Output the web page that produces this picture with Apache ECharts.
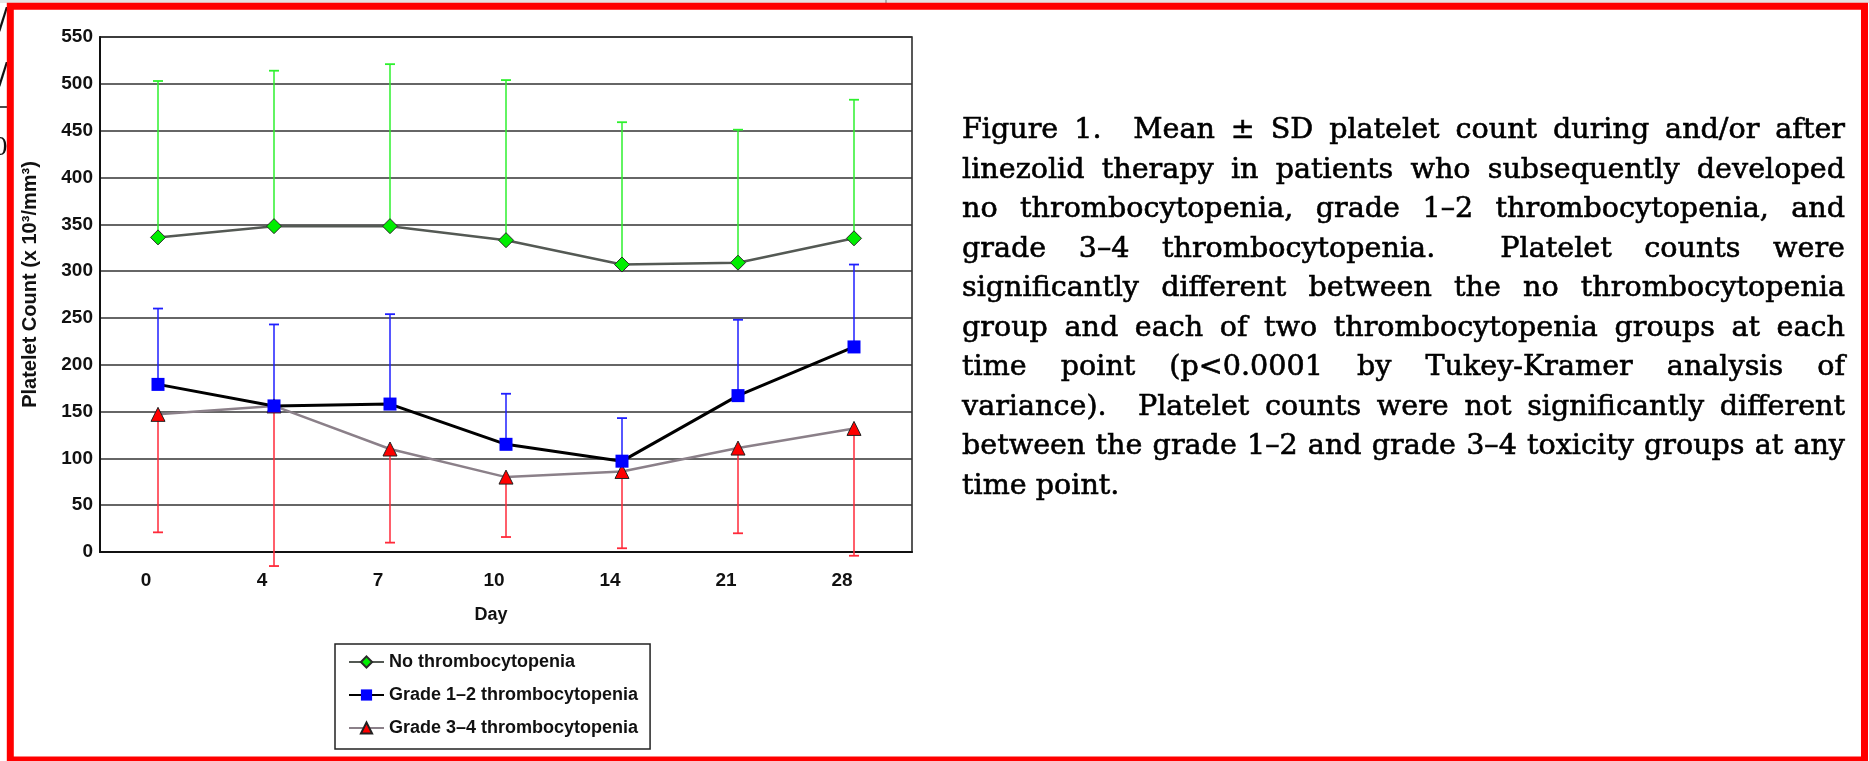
<!DOCTYPE html>
<html>
<head>
<meta charset="utf-8">
<script src="https://cdn.jsdelivr.net/npm/echarts@6/dist/echarts.min.js"></script>
<style>
html,body{margin:0;padding:0;background:#ffffff;}
#chart{width:1869px;height:761px;}
</style>
</head>
<body>
<div id="chart"></div>
<script>
// ---------------- data ----------------
const days = ['0', '4', '7', '10', '14', '21', '28'];
const seriesNames = ['No thrombocytopenia', 'Grade 1\u20132 thrombocytopenia', 'Grade 3\u20134 thrombocytopenia'];
const noThrombMean  = [336, 348, 348, 333, 307, 309, 335];
const noThrombUpper = [503, 514, 521, 504, 459, 451, 483];
const grade12Mean   = [179, 156, 158, 115, 97, 167, 219];
const grade12Upper  = [260, 243, 254, 169, 143, 248, 307];
const grade34Mean   = [147, 156, 110, 80, 86, 111, 132];
const grade34Lower  = [21, -15, 10, 16, 4, 20, -4];
const yMin = 0, yMax = 550, yStep = 50;
const xAxisTitle = 'Day';
const yAxisTitle = 'Platelet Count (x 10\u00B3/mm\u00B3)';
const captionLines = [
  'Figure 1.  Mean \u00B1 SD platelet count during and/or after',
  'linezolid therapy in patients who subsequently developed',
  'no thrombocytopenia, grade 1\u20132 thrombocytopenia, and',
  'grade 3\u20134 thrombocytopenia.  Platelet counts were',
  'significantly different between the no thrombocytopenia',
  'group and each of two thrombocytopenia groups at each',
  'time point (p<0.0001 by Tukey-Kramer analysis of',
  'variance).  Platelet counts were not significantly different',
  'between the grade 1\u20132 and grade 3\u20134 toxicity groups at any',
  'time point.'
];

// ---------------- helpers ----------------
const SANS = '"Liberation Sans", Arial, Helvetica, sans-serif';
const SERIF = '"DejaVu Serif", serif';

function errorBars(name, base, end, color) {
  return {
    type: 'custom',
    name: name + ' SD',
    z: 1,
    silent: true,
    clip: false,
    data: days.map((d, i) => [i, base[i], end[i]]),
    encode: { x: 0, y: [1, 2] },
    renderItem: function (params, api) {
      const x = api.value(0);
      const p1 = api.coord([x, api.value(1)]);
      const p2 = api.coord([x, api.value(2)]);
      const hw = 5;
      return {
        type: 'group',
        children: [
          { type: 'line', shape: { x1: p1[0], y1: p1[1], x2: p2[0], y2: p2[1] },
            style: { stroke: color, lineWidth: 1.5 } },
          { type: 'line', shape: { x1: p2[0] - hw, y1: p2[1], x2: p2[0] + hw, y2: p2[1] },
            style: { stroke: color, lineWidth: 1.8 } }
        ]
      };
    }
  };
}

// caption: justified lines built from words, measured with zrender itself
const capLeft = 962, capRight = 1845, capTop = 131, capStep = 39.5;
function textW(t, size) {
  const el = new echarts.graphic.Text({ style: { text: t, fontSize: size, fontFamily: SERIF } });
  return el.getBoundingRect().width;
}
let capSize = 30;
captionLines.slice(0, -1).forEach(l => {
  const w = textW(l, 100);
  capSize = Math.min(capSize, 100 * 0.99 * (capRight - capLeft) / w);
});
capSize = Math.floor(capSize * 10) / 10;
const captionGraphics = [];
captionLines.forEach((line, li) => {
  const tokens = line.split(' ');
  const widths = tokens.map(t => t.length ? textW(t, capSize) : 0);
  const total = widths.reduce((a, b) => a + b, 0);
  const gaps = tokens.length - 1;
  const isLast = li === captionLines.length - 1;
  const gap = isLast ? textW('a a', capSize) - textW('aa', capSize) : (capRight - capLeft - total) / gaps;
  let x = capLeft;
  const y = capTop + li * capStep;
  tokens.forEach((t, ti) => {
    if (t.length) {
      captionGraphics.push({
        type: 'text', x: x, y: y, z: 50,
        style: { text: t, fontSize: capSize, fontFamily: SERIF, fill: '#000',
                 stroke: '#000', lineWidth: 0.6,
                 textAlign: 'left', textVerticalAlign: 'middle', align: 'left', verticalAlign: 'middle' }
      });
    }
    x += widths[ti] + gap;
  });
});

// ---------------- chart ----------------
const chart = echarts.init(document.getElementById('chart'), null, { renderer: 'canvas' });
chart.setOption({
  animation: false,
  backgroundColor: '#ffffff',
  grid: { left: 100, right: 957, top: 37, bottom: 209, show: true,
          borderColor: '#222', borderWidth: 1.5, backgroundColor: 'transparent' },
  legend: {
    data: seriesNames,
    orient: 'vertical',
    left: 335, top: 644,
    itemWidth: 35, itemHeight: 14, itemGap: 15,
    padding: [9, 12, 12, 13],
    borderColor: '#222', borderWidth: 1.5,
    backgroundColor: '#fff',
    selectedMode: false,
    textStyle: { fontSize: 18, fontWeight: 'bold', color: '#111', fontFamily: SANS }
  },
  xAxis: {
    type: 'category',
    data: days,
    boundaryGap: true,
    axisLine: { lineStyle: { color: '#111', width: 2 } },
    axisTick: { show: false },
    splitLine: { show: false },
    axisLabel: { margin: 19, fontSize: 19, fontWeight: 'bold', color: '#111', fontFamily: SANS,
                 padding: [0, 24, 0, 0] },
    name: xAxisTitle,
    nameLocation: 'middle',
    nameGap: 54,
    nameTextStyle: { fontSize: 18, fontWeight: 'bold', color: '#111', fontFamily: SANS, padding: [0, 30, 0, 0] }
  },
  yAxis: {
    type: 'value',
    min: yMin, max: yMax, interval: yStep,
    axisLine: { show: true, lineStyle: { color: '#111', width: 2 } },
    axisTick: { show: false },
    splitLine: { lineStyle: { color: '#333', width: 1.5 } },
    axisLabel: { margin: 7, fontSize: 19, fontWeight: 'bold', color: '#111', fontFamily: SANS },
    name: yAxisTitle,
    nameLocation: 'middle',
    nameGap: 60,
    nameTextStyle: { fontSize: 20, fontWeight: 'bold', color: '#111', fontFamily: SANS, padding: [0, 0, 0, 20] }
  },
  series: [
    errorBars(seriesNames[0], noThrombMean, noThrombUpper, '#2ef02e'),
    errorBars(seriesNames[1], grade12Mean, grade12Upper, '#1f1fff'),
    errorBars(seriesNames[2], grade34Mean, grade34Lower, '#ff2a3a'),
    {
      name: seriesNames[0], type: 'line', data: noThrombMean, z: 3,
      symbol: 'diamond', symbolSize: 15, showAllSymbol: true,
      lineStyle: { color: '#545954', width: 2.5 },
      itemStyle: { color: '#00ee00', borderColor: '#2a2a2a', borderWidth: 1 }
    },
    {
      name: seriesNames[2], type: 'line', data: grade34Mean, z: 3,
      symbol: 'triangle', symbolSize: 14, showAllSymbol: true,
      lineStyle: { color: '#8b8089', width: 2.5 },
      itemStyle: { color: '#ff0000', borderColor: '#222', borderWidth: 1 }
    },
    {
      name: seriesNames[1], type: 'line', data: grade12Mean, z: 4,
      symbol: 'rect', symbolSize: 13, showAllSymbol: true,
      lineStyle: { color: '#000000', width: 3 },
      itemStyle: { color: '#0000ff', borderColor: '#0000ff', borderWidth: 0 }
    }
  ],
  graphic: captionGraphics.concat([
    { type: 'text', x: 8, y: 21, z: 40, style: { text: '5/', fontSize: 30, fontFamily: SERIF, fill: '#111',
      textAlign: 'right', textVerticalAlign: 'middle', align: 'right', verticalAlign: 'middle' } },
    { type: 'text', x: 8, y: 76, z: 40, style: { text: '5/', fontSize: 30, fontFamily: SERIF, fill: '#111',
      textAlign: 'right', textVerticalAlign: 'middle', align: 'right', verticalAlign: 'middle' } },
    { type: 'line', z: 40, shape: { x1: 0, y1: 107, x2: 9, y2: 107 }, style: { stroke: '#111', lineWidth: 1.5 } },
    { type: 'text', x: 8, y: 149, z: 40, style: { text: '0', fontSize: 24, fontFamily: SERIF, fill: '#111',
      textAlign: 'right', textVerticalAlign: 'middle', align: 'right', verticalAlign: 'middle' } },
    { type: 'rect', z: 90, shape: { x: 0, y: 0, width: 1869, height: 3 }, style: { fill: '#e4e4e4' } },
    { type: 'line', z: 91, shape: { x1: 886, y1: 0, x2: 886, y2: 3 }, style: { stroke: '#777', lineWidth: 1 } },
    { type: 'rect', z: 100, shape: { x: 10.3, y: 6.3, width: 1854.2, height: 753.7 },
      style: { fill: 'none', stroke: '#ff0000', lineWidth: 7 } }
  ])
});
</script>
</body>
</html>
